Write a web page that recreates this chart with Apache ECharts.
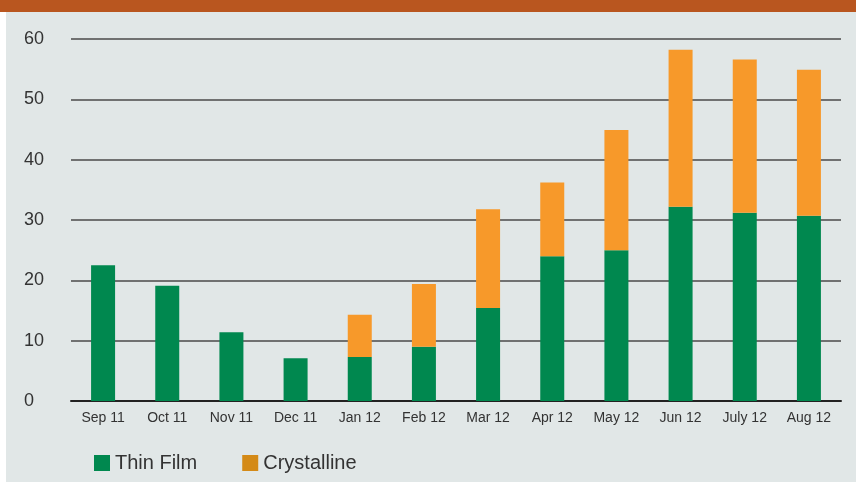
<!DOCTYPE html>
<html>
<head>
<meta charset="utf-8">
<script src="https://cdn.jsdelivr.net/npm/echarts@6/dist/echarts.min.js"></script>
<style>
  html, body { margin: 0; padding: 0; background: #ffffff; }
  #chart { width: 856px; height: 483px; }
</style>
</head>
<body>
<div id="chart"></div>
<script>
// data
const months = ['Sep 11', 'Oct 11', 'Nov 11', 'Dec 11', 'Jan 12', 'Feb 12', 'Mar 12', 'Apr 12', 'May 12', 'Jun 12', 'July 12', 'Aug 12']
const thinFilm = [22.5, 19.1, 11.4, 7.1, 7.3, 9.0, 15.4, 24.0, 25.0, 32.2, 31.2, 30.7]
const crystalline = [0, 0, 0, 0, 7.0, 10.4, 16.4, 12.2, 19.9, 26.0, 25.4, 24.2]
const yTicks = [0, 10, 20, 30, 40, 50, 60]

const myChart = echarts.init(document.getElementById('chart'))
const fontFamily = '"Liberation Sans", Arial, sans-serif'

const option = {
  backgroundColor: '#ffffff',
  animation: false,
  graphic: [
    // panel background
    { type: 'rect', left: 6, top: 0, z: -10, shape: { width: 850, height: 482 }, style: { fill: '#e1e7e7' } },
    // orange band on top
    { type: 'rect', left: 0, top: 0, z: -5, shape: { width: 856, height: 12 }, style: { fill: '#b9561f' } },
  ],
  grid: {
    left: 71,
    right: 15,
    top: 39,
    bottom: 82,
  },
  legend: {
    left: 94,
    top: 453,
    padding: 0,
    itemWidth: 16,
    itemHeight: 16,
    itemGap: 45,
    icon: 'rect',
    textStyle: { fontFamily: fontFamily, fontSize: 20, color: '#333' },
    data: [
      { name: 'Thin Film', itemStyle: { color: '#00884f' } },
      { name: 'Crystalline', itemStyle: { color: '#d48a17' } },
    ],
  },
  xAxis: {
    type: 'category',
    data: months,
    axisLine: { lineStyle: { color: '#222', width: 2 } },
    axisTick: { show: false },
    axisLabel: { color: '#333', fontSize: 14, fontFamily: fontFamily, margin: 10 },
  },
  yAxis: {
    type: 'value',
    min: 0,
    max: 60,
    interval: 10,
    axisLine: { show: false },
    axisTick: { show: false },
    axisLabel: {
      color: '#333',
      fontSize: 18,
      fontFamily: fontFamily,
      align: 'left',
      verticalAlign: 'middle',
      padding: [0, 0, 12, 0],
      margin: 47,
      formatter: function (v) { return yTicks.indexOf(v) >= 0 ? String(v) : '' },
    },
    splitLine: { lineStyle: { color: '#4a4a4a', width: 1.5 } },
  },
  series: [
    {
      name: 'Thin Film',
      type: 'bar',
      stack: 'total',
      barWidth: 24,
      data: thinFilm,
      itemStyle: { color: '#00884f' },
    },
    {
      name: 'Crystalline',
      type: 'bar',
      stack: 'total',
      barWidth: 24,
      data: crystalline,
      itemStyle: { color: '#f7992a' },
    },
  ],
}

option && myChart.setOption(option)
</script>
</body>
</html>
